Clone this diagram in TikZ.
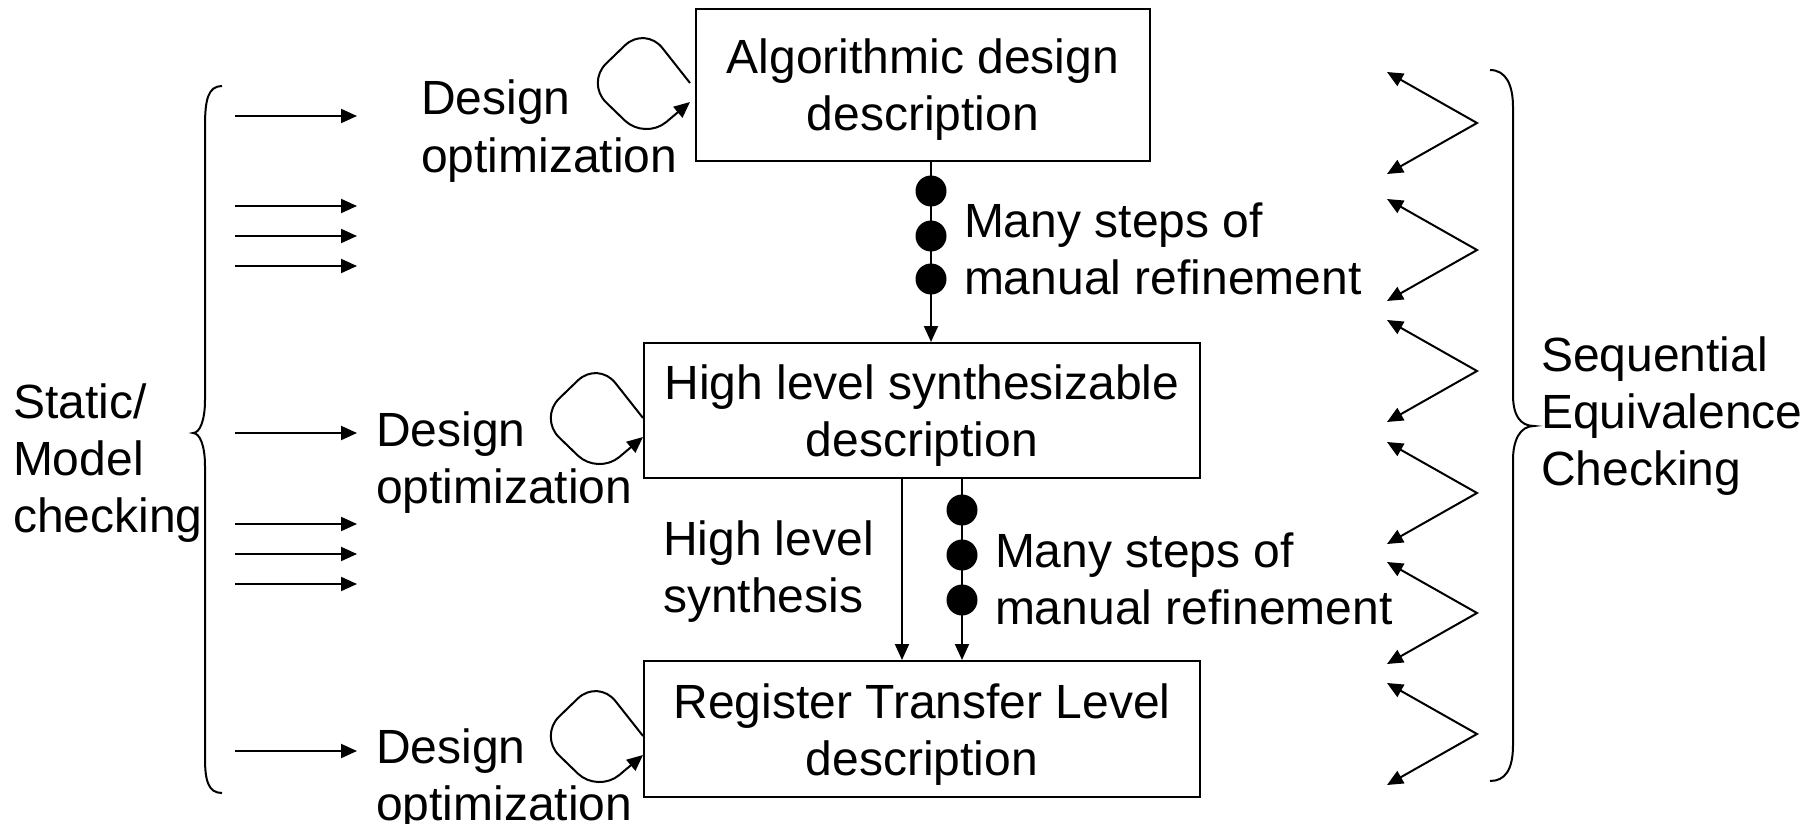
\documentclass[tikz,border=0pt]{standalone}
\usepackage{fontspec}
\setmainfont{Liberation Sans}
\usetikzlibrary{arrows.meta,calc}
% line strut: every text line gets the same height and depth
\newcommand{\lstrut}{\rule[-5.5pt]{0pt}{28.5pt}}
\begin{document}
\begin{tikzpicture}[x=0.5pt,y=-0.5pt,
  line width=1pt,
  >={Triangle[length=8pt,width=7pt]},
  every node/.style={font=\fontsize{24}{28.5}\selectfont},
  stage/.style={draw, line width=1pt, align=center, inner sep=0pt},
  lbl/.style={inner sep=0pt, align=left, anchor=west},
  dot/.style={circle, fill=black, inner sep=0pt, minimum size=15.5pt},
  loopback/.style={->, rounded corners=14pt},
]
\useasboundingbox (0,0) rectangle (1815,824);

% design levels
\node[stage, minimum width=227pt, minimum height=76pt] (alg) at (923,85)
  {\lstrut Algorithmic design\\\lstrut description};
\node[stage, minimum width=278pt, minimum height=67.5pt] (hls) at (922,410.5)
  {\lstrut High level synthesizable\\\lstrut description};
\node[stage, minimum width=278pt, minimum height=68pt] (rtl) at (922,729)
  {\lstrut Register Transfer Level\\\lstrut description};

% refinement columns
\coordinate (colA) at (931,0);
\coordinate (colB) at (902,0);
\coordinate (colC) at (962,0);

\draw[->] (colA |- alg.south) -- (colA |- hls.north);
\node[dot] (a1) at (931,191) {};
\node[dot] (a2) at (931,236) {};
\node[dot] (a3) at (931,279) {};

\draw[->] (colB |- hls.south) -- (colB |- rtl.north);
\draw[->] (colC |- hls.south) -- (colC |- rtl.north);
\node[dot] (b1) at (962,510) {};
\node[dot] (b2) at (962,555) {};
\node[dot] (b3) at (962,600) {};

\node[lbl] (steps1) at (963,248) {\lstrut Many steps of\\\lstrut manual refinement};
\node[lbl] (steps2) at (994,578) {\lstrut Many steps of\\\lstrut manual refinement};
\node[lbl] (synth) at (662,566) {\lstrut High level\\\lstrut synthesis};

% design optimization loops
\draw[loopback] ($(alg.west)+(-5,-2)$) -- ++(-45,-57) -- ++(-59,57) -- ++(59,57) -- ++(45,-38);
\draw[loopback] ($(hls.west)+(0,7.5)$) -- ++(-45,-57) -- ++(-59,57) -- ++(59,57) -- ++(45,-38);
\draw[loopback] ($(rtl.west)+(0,7)$) -- ++(-45,-57) -- ++(-59,57) -- ++(59,57) -- ++(45,-38);

\node[lbl] (opt1) at (420,126) {\lstrut Design\\\lstrut optimization};
\node[lbl] (opt2) at (375,457) {\lstrut Design\\\lstrut optimization};
\node[lbl] (opt3) at (375,774) {\lstrut Design\\\lstrut optimization};

% static / model checking
\draw (222,86) .. controls (208,86) and (205,100) .. (205,126) -- (205,400)
  .. controls (205,420) and (200,433) .. (193,433)
  .. controls (200,433) and (205,446) .. (205,466) -- (205,758)
  .. controls (205,780) and (208,793) .. (222,793);
\node[lbl] (smc) at (12,458) {\lstrut Static/\\\lstrut Model\\\lstrut checking};
\foreach \yy [count=\i] in {116,206,236,266,433,524,554,584,751} {
  \coordinate (ms\i) at (235,\yy);
  \coordinate (me\i) at (357,\yy);
  \draw[->] (ms\i) -- (me\i);
}

% sequential equivalence checking
\foreach \yy [count=\i] in {72,199,320,442,562,683} {
  \coordinate (zt\i) at (1387,\yy);
  \coordinate (zv\i) at (1477,\yy+51);
  \coordinate (zb\i) at (1387,\yy+102);
  \draw[<->] (zt\i) -- (zv\i) -- (zb\i);
}
\draw (1490,70) .. controls (1506,70) and (1513,85) .. (1513,107) -- (1513,395)
  .. controls (1513,415) and (1520,426) .. (1534,426)
  .. controls (1520,426) and (1513,440) .. (1513,460) -- (1513,745)
  .. controls (1513,770) and (1505,781) .. (1490,781);
\node[lbl] (sec) at (1540,411) {\lstrut Sequential\\\lstrut Equivalence\\\lstrut Checking};
\end{tikzpicture}
\end{document}
